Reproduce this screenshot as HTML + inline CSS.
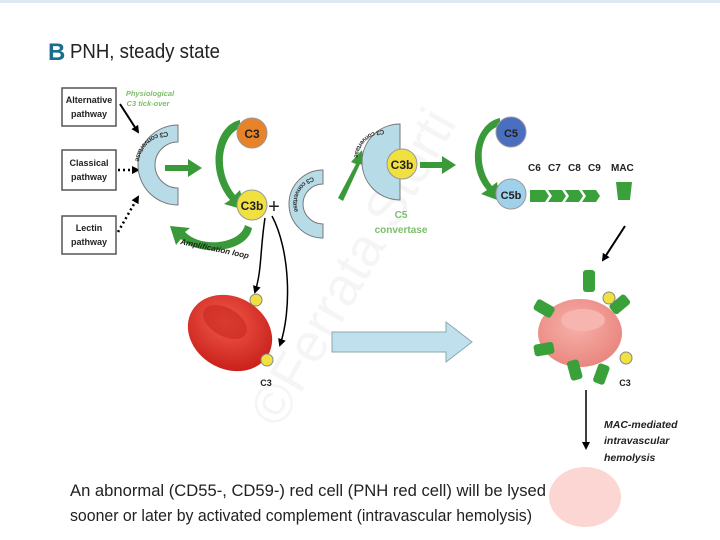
<!DOCTYPE html>
<html><head><meta charset="utf-8"><style>
html,body{margin:0;padding:0;background:#fff;}
svg{display:block;font-family:"Liberation Sans",sans-serif;}
</style></head><body>
<svg width="720" height="540" viewBox="0 0 720 540" xmlns="http://www.w3.org/2000/svg">
<defs>
<marker id="ab" markerWidth="8" markerHeight="8" refX="6" refY="4" orient="auto" markerUnits="userSpaceOnUse"><path d="M0,0 L8,4 L0,8 z" fill="#000"/></marker>
<radialGradient id="rbc" cx="40%" cy="40%" r="65%"><stop offset="0" stop-color="#f25a4a"/><stop offset="1" stop-color="#c8201a"/></radialGradient>
<radialGradient id="pink" cx="45%" cy="40%" r="65%"><stop offset="0" stop-color="#f7b0aa"/><stop offset="1" stop-color="#e8847c"/></radialGradient>
</defs>
<rect x="0" y="0" width="720" height="3" fill="#dbe9f2"/>
<text x="48" y="60" font-size="24" font-weight="bold" fill="#1a6d8f">B</text>
<text x="70" y="58" font-size="20" fill="#222" textLength="150" lengthAdjust="spacingAndGlyphs">PNH, steady state</text>

<text x="0" y="0" font-size="54" fill="#f5f5f5" transform="translate(280,430) rotate(-60)">©Ferrata Storti</text>

<!-- pathway boxes -->
<g font-size="9" font-weight="bold" text-anchor="middle" fill="#222">
<rect x="62" y="88" width="54" height="38" fill="#fff" stroke="#555" stroke-width="1.5"/>
<text x="89" y="103">Alternative</text><text x="89" y="117">pathway</text>
<rect x="62" y="150" width="54" height="40" fill="#fff" stroke="#555" stroke-width="1.5"/>
<text x="89" y="166">Classical</text><text x="89" y="180">pathway</text>
<rect x="62" y="216" width="54" height="38" fill="#fff" stroke="#555" stroke-width="1.5"/>
<text x="89" y="231">Lectin</text><text x="89" y="245">pathway</text>
</g>
<text x="150" y="96" font-size="7.5" font-style="italic" font-weight="bold" fill="#7bbf6a" text-anchor="middle">Physiological</text>
<text x="148" y="106" font-size="7.5" font-style="italic" font-weight="bold" fill="#7bbf6a" text-anchor="middle">C3 tick-over</text>
<line x1="120" y1="104" x2="138" y2="132" stroke="#000" stroke-width="2" marker-end="url(#ab)"/>
<line x1="118" y1="170" x2="138" y2="170" stroke="#000" stroke-width="2.5" stroke-dasharray="2,3" marker-end="url(#ab)"/>
<line x1="118" y1="232" x2="138" y2="197" stroke="#000" stroke-width="2.5" stroke-dasharray="2,3" marker-end="url(#ab)"/>

<!-- C3 convertase 1 -->
<path d="M178,125 A40,40 0 0 0 178,205 L178,188 A23,23 0 0 1 178,142 Z" fill="#b8dbe8" stroke="#777" stroke-width="1"/>
<path id="arc1" d="M168,132 A31,31 0 0 0 168,198" fill="none"/>
<text font-size="7" font-weight="bold" fill="#333"><textPath href="#arc1">C3 convertase</textPath></text>

<!-- green arrows -->
<g fill="#3a9a3a">
<path d="M165,165 L188,165 L188,159 L202,168 L188,177 L188,171 L165,171 Z"/>
<path d="M240,120 C215,125 205,170 230,200 L224,204 L245,210 L240,190 L235,195 C215,170 222,135 240,128 Z"/>
<path d="M245,225 C240,245 200,248 185,232 L190,228 L170,226 L176,245 L181,239 C200,258 248,252 252,228 Z"/>
<path d="M338,198 L356,164 L351,162 L362,150 L364,166 L360,164 L343,201 Z"/>
<path d="M420,162 L442,162 L442,156 L456,165 L442,174 L442,168 L420,168 Z"/>
<path d="M500,118 C475,123 465,165 487,190 L481,194 L500,201 L497,182 L492,186 C475,165 480,130 500,126 Z"/>
</g>
<text x="0" y="0" font-size="8" font-weight="bold" font-style="italic" fill="#222" transform="translate(180,244) rotate(12)">Amplification loop</text>

<circle cx="252" cy="133" r="15" fill="#e8832a" stroke="#999"/>
<text x="252" y="138" font-size="12" font-weight="bold" text-anchor="middle" fill="#222">C3</text>
<circle cx="252" cy="205" r="15" fill="#f0e040" stroke="#999"/>
<text x="252" y="210" font-size="12" font-weight="bold" text-anchor="middle" fill="#222">C3b</text>
<text x="274" y="213" font-size="20" fill="#222" text-anchor="middle">+</text>

<!-- C3 convertase 2 -->
<path d="M323,170 A34,34 0 0 0 323,238 L323,224 A20,20 0 0 1 323,184 Z" fill="#b8dbe8" stroke="#777"/>
<path id="arc2" d="M313,177 A27,27 0 0 0 313,229" fill="none"/>
<text font-size="6.5" font-weight="bold" fill="#333"><textPath href="#arc2">C3 convertase</textPath></text>

<!-- C5 convertase -->
<path d="M400,124 A38,38 0 0 0 400,200 Z" fill="#b8dbe8" stroke="#777"/>
<path id="arc3" d="M384,130 A30,30 0 0 0 384,190" fill="none"/>
<text font-size="6.5" font-weight="bold" fill="#333"><textPath href="#arc3">C3 convertase</textPath></text>
<circle cx="402" cy="164" r="15" fill="#f0e040" stroke="#999"/>
<text x="402" y="169" font-size="12" font-weight="bold" text-anchor="middle" fill="#222">C3b</text>
<text x="401" y="218" font-size="10" font-weight="bold" text-anchor="middle" fill="#7bbf6a">C5</text>
<text x="401" y="233" font-size="10" font-weight="bold" text-anchor="middle" fill="#7bbf6a">convertase</text>

<circle cx="511" cy="132" r="15" fill="#4a6ec0" stroke="#999"/>
<text x="511" y="137" font-size="11" font-weight="bold" text-anchor="middle" fill="#222">C5</text>
<circle cx="511" cy="194" r="15" fill="#9fd2ea" stroke="#999"/>
<text x="511" y="199" font-size="11" font-weight="bold" text-anchor="middle" fill="#222">C5b</text>

<g font-size="10" font-weight="bold" fill="#222">
<text x="528" y="171">C6</text><text x="548" y="171">C7</text><text x="568" y="171">C8</text><text x="588" y="171">C9</text><text x="611" y="171">MAC</text>
</g>
<g fill="#3aa03a">
<path d="M530,190 L545,190 L549,196 L545,202 L530,202 Z"/>
<path d="M548,190 L562,190 L566,196 L562,202 L548,202 L552,196 Z"/>
<path d="M565,190 L579,190 L583,196 L579,202 L565,202 L569,196 Z"/>
<path d="M582,190 L596,190 L600,196 L596,202 L582,202 L586,196 Z"/>
<path d="M616,182 L632,182 L630,200 L618,200 Z"/>
</g>
<line x1="625" y1="226" x2="603" y2="260" stroke="#000" stroke-width="2" marker-end="url(#ab)"/>

<!-- left red cell -->
<path d="M265,218 C260,250 262,270 255,292" fill="none" stroke="#000" stroke-width="1.5" marker-end="url(#ab)"/>
<path d="M272,216 C290,250 292,310 280,345" fill="none" stroke="#000" stroke-width="1.5" marker-end="url(#ab)"/>
<ellipse cx="230" cy="333" rx="44" ry="36" transform="rotate(30 230 333)" fill="url(#rbc)"/>
<ellipse cx="225" cy="322" rx="24" ry="14" transform="rotate(30 225 322)" fill="#c8261e" opacity="0.6"/>
<circle cx="256" cy="300" r="6" fill="#f0e040" stroke="#888"/>
<circle cx="267" cy="360" r="6" fill="#f0e040" stroke="#888"/>
<text x="266" y="386" font-size="9" font-weight="bold" text-anchor="middle" fill="#222">C3</text>

<!-- big arrow -->
<path d="M332,332 L446,332 L446,322 L472,342 L446,362 L446,352 L332,352 Z" fill="#bfe0ec" stroke="#8aa" stroke-width="1"/>

<!-- right pink cell -->
<ellipse cx="580" cy="333" rx="42" ry="34" fill="url(#pink)"/>
<ellipse cx="583" cy="320" rx="22" ry="11" fill="#f6b5ae"/>
<g fill="#3aa03a">
<rect x="583" y="270" width="12" height="22" rx="3"/>
<rect x="613" y="294" width="12" height="20" rx="3" transform="rotate(50 619 305)"/>
<rect x="539" y="298" width="12" height="20" rx="3" transform="rotate(-60 545 309)"/>
<rect x="539" y="338" width="12" height="20" rx="3" transform="rotate(-100 545 349)"/>
<rect x="569" y="360" width="12" height="20" rx="3" transform="rotate(-15 575 371)"/>
<rect x="595" y="364" width="12" height="20" rx="3" transform="rotate(20 601 375)"/>
</g>
<circle cx="609" cy="298" r="6" fill="#f0e040" stroke="#888"/>
<circle cx="626" cy="358" r="6" fill="#f0e040" stroke="#888"/>
<text x="625" y="386" font-size="9" font-weight="bold" text-anchor="middle" fill="#222">C3</text>
<line x1="586" y1="390" x2="586" y2="448" stroke="#000" stroke-width="1.5" marker-end="url(#ab)"/>
<g font-size="10.5" font-weight="bold" font-style="italic" fill="#222">
<text x="604" y="428">MAC-mediated</text><text x="604" y="444">intravascular</text><text x="604" y="461">hemolysis</text>
</g>
<ellipse cx="585" cy="497" rx="36" ry="30" fill="#fbd6d2"/>

<g font-size="16.5" fill="#222">
<text x="70" y="496" textLength="476" lengthAdjust="spacingAndGlyphs">An abnormal (CD55-, CD59-) red cell (PNH red cell) will be lysed</text>
<text x="70" y="521" textLength="462" lengthAdjust="spacingAndGlyphs">sooner or later by activated complement (intravascular hemolysis)</text>
</g>
</svg>
</body></html>
